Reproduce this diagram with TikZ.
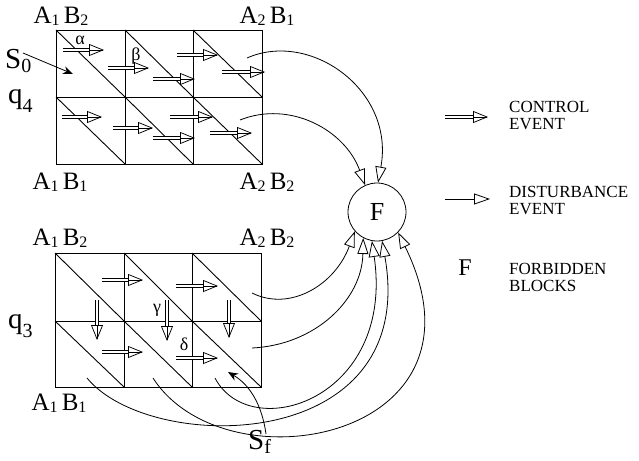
\documentclass[tikz,border=0pt]{standalone}
\usepackage{fontspec}
\setmainfont{Liberation Serif}
\usetikzlibrary{arrows.meta, calc}

\newcommand{\idx}[1]{{\fontsize{16}{16}\selectfont\raisebox{-1.5pt}{#1}}}
\newcommand{\blockname}[2]{A\idx{#1}\,B\idx{#2}}
\newcommand{\stateidx}[2]{\raisebox{-#2}{\fontsize{20}{20}\selectfont #1}}
% control event: double shaft, open head
\newcommand{\ctrlev}[2]{%
  \draw[ctrlshaft] #1 -- ($#2!14pt!#1$);
  \draw[ctrltip] ($#2!1pt!#1$) -- #2;}

\begin{document}
\begin{tikzpicture}[x=1pt, y=-1pt,
  cellgrid/.style={line width=0.9pt},
  ctrlshaft/.style={double, double distance=2.8pt, line width=0.7pt},
  ctrltip/.style={-{Triangle[open, length=15pt, width=12pt]}, line width=0.75pt},
  distarr/.style={-{Triangle[open, length=16pt, width=11pt]}, line width=0.8pt},
  startarr/.style={-{Stealth[length=10pt, width=8pt]}, line width=0.8pt},
  blocklbl/.style={font=\fontsize{25}{25}\selectfont, inner sep=0pt},
  statelbl/.style={font=\fontsize{29}{29}\selectfont, inner sep=0pt, anchor=base west},
  greek/.style={font=\fontsize{18}{18}\selectfont, inner sep=0pt},
  legtxt/.style={font=\fontsize{17}{17}\selectfont, align=left, anchor=west, inner sep=0pt},
]
  \useasboundingbox (0,0) rectangle (639,460);

  % ═══ upper block q4 ═══
  \draw[cellgrid] (56,30) rectangle (262,164)
    (125,30) -- (125,164) (193,30) -- (193,164) (56,97) -- (262,97);
  \foreach \xa/\xb in {56/125,125/193,193/262}
    \foreach \ya/\yb in {30/97,97/164}
      \draw[cellgrid] (\xa,\ya) -- (\xb,\yb);

  \node[blocklbl] (ul) at (61,16) {\blockname{1}{2}};
  \node[blocklbl] (ur) at (267,16) {\blockname{2}{1}};
  \node[blocklbl] (ll) at (60,182) {\blockname{1}{1}};
  \node[blocklbl] (lr) at (267,182) {\blockname{2}{2}};

  \foreach \xa/\ya/\xb/\yb in {63/50/104/50, 108/68/149/68, 153/79/195/79,
      177/55/218/55, 222/72/265/72, 62/117/102/117, 113/128/153/128,
      153/138/195/138, 170/117/213/117, 210/133/252/133}
    {\ctrlev{(\xa,\ya)}{(\xb,\yb)}}
  \node[greek] (alpha) at (80,40) {α};
  \node[greek] (beta) at (136,56) {β};

  \node[statelbl] (s0) at (5,68) {S\stateidx{0}{4pt}};
  \coordinate (s0end) at (73,74);
  \draw[startarr] (23,53) -- (s0end);
  \node[statelbl] (q4) at (8,103) {q\stateidx{4}{9pt}};

  % ═══ lower block q3 ═══
  \draw[cellgrid] (55,253) rectangle (261,387)
    (124,253) -- (124,387) (192,253) -- (192,387) (55,321) -- (261,321);
  \foreach \xa/\xb in {55/124,124/192,192/261}
    \foreach \ya/\yb in {253/321,321/387}
      \draw[cellgrid] (\xa,\ya) -- (\xb,\yb);

  \node[blocklbl] (ul3) at (60,238) {\blockname{1}{2}};
  \node[blocklbl] (ur3) at (267,238) {\blockname{2}{2}};
  \node[blocklbl] (ll3) at (59,403) {\blockname{1}{1}};

  \foreach \xa/\ya/\xb/\yb in {102/280/143/280, 176/286/218/286,
      102/352/143/352, 176/358/218/358, 97/300/97/340, 167/300/167/341,
      229/300/229/338}
    {\ctrlev{(\xa,\ya)}{(\xb,\yb)}}
  \node[greek] (gamma) at (157,310) {γ};
  \node[greek] (delta) at (184,344) {δ};

  \node[statelbl] (q3) at (8,328) {q\stateidx{3}{9pt}};
  \node[statelbl] (sf) at (248,449) {S\stateidx{f}{4pt}};
  \coordinate (sftail) at (266,434);
  \coordinate (sfend) at (228,372);
  \draw[startarr] (sftail) .. controls (262,405) and (250,385) .. (sfend);

  % ═══ forbidden blocks ═══
  \node[circle, draw, line width=0.8pt, minimum size=58pt, inner sep=0pt,
        font=\fontsize{26}{26}\selectfont] (F) at (377,212) {F};

  \coordinate (t1) at (247,58);
  \coordinate (t2) at (240,120);
  \coordinate (b1) at (252,293);
  \coordinate (b2) at (252,348);
  \coordinate (b3) at (215,378);
  \coordinate (b4) at (87,378);
  \coordinate (b5) at (153,378);
  \draw[distarr] (t1) .. controls (310,30) and (395,90) .. (F.88);
  \draw[distarr] (t2) .. controls (290,100) and (345,130) .. (F.114);
  \draw[distarr] (b1) .. controls (290,312) and (335,285) .. (F.221);
  \draw[distarr] (b2) .. controls (315,345) and (362,300) .. (F.242);
  \draw[distarr] (b3) .. controls (250,445) and (395,400) .. (F.260);
  \draw[distarr] (b4) .. controls (150,455) and (420,455) .. (F.280);
  \draw[distarr] (b5) .. controls (225,490) and (500,440) .. (F.316);

  % ═══ legend ═══
  \ctrlev{(445,117)}{(488,117)}
  \node[legtxt] (ctrltxt) at (509,115) {CONTROL\\EVENT};
  \coordinate (dista) at (445,199);
  \coordinate (distb) at (490,199);
  \draw[distarr] (dista) -- (distb);
  \node[legtxt] (disttxt) at (509,200) {DISTURBANCE\\EVENT};
  \node[font=\fontsize{24}{24}\selectfont, inner sep=0pt] (Fkey) at (465,268) {F};
  \node[legtxt] (fbtxt) at (509,277) {FORBIDDEN\\BLOCKS};
\end{tikzpicture}
\end{document}
